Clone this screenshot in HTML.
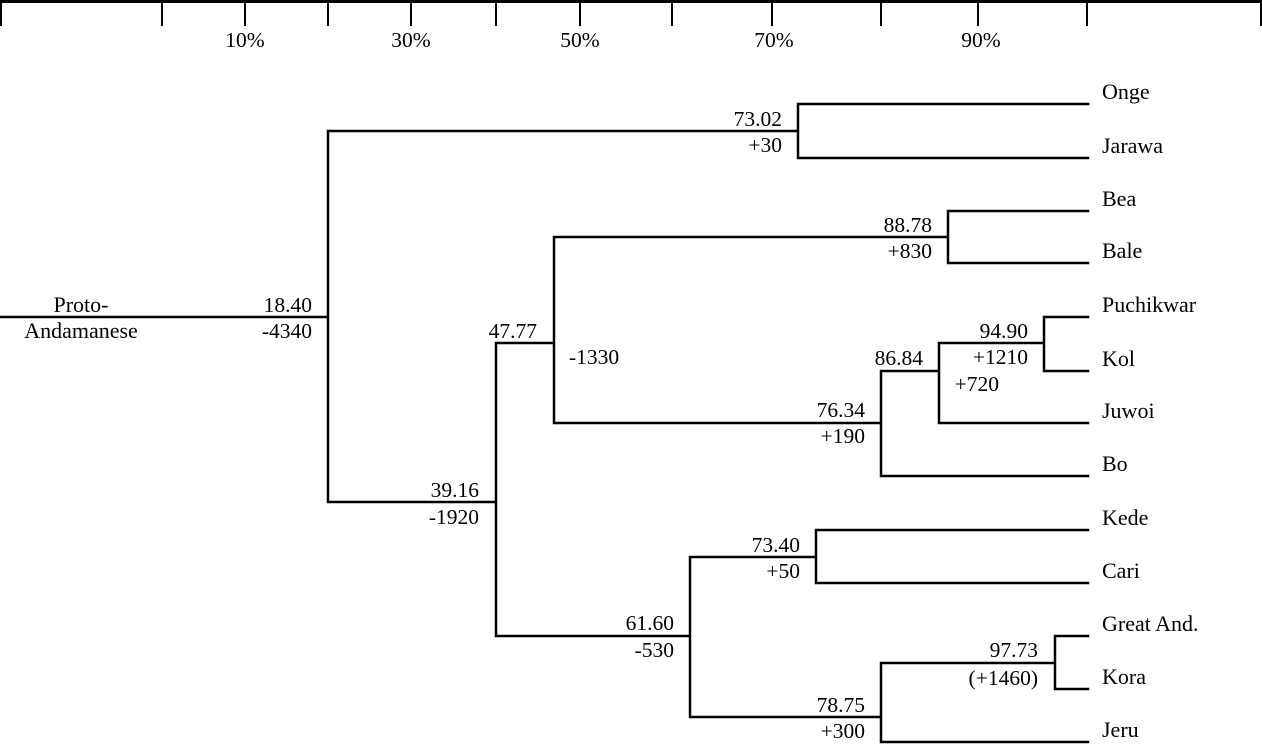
<!DOCTYPE html>
<html>
<head>
<meta charset="utf-8">
<style>
  html, body { margin: 0; padding: 0; background: #fff; }
  svg { display: block; }
  text { font-family: "Liberation Serif", "Times New Roman", serif; font-size: 21.5px; fill: #000; }
</style>
</head>
<body>
<svg width="1262" height="745" viewBox="0 0 1262 745" xmlns="http://www.w3.org/2000/svg">
  <!-- top scale -->
  <line x1="0" y1="1.5" x2="1262" y2="1.5" stroke="#000" stroke-width="3"/>
  <g stroke="#000" stroke-width="2">
    <line x1="1" y1="0" x2="1" y2="26"/>
    <line x1="162" y1="0" x2="162" y2="26"/>
    <line x1="245" y1="0" x2="245" y2="26"/>
    <line x1="328" y1="0" x2="328" y2="26"/>
    <line x1="411" y1="0" x2="411" y2="26"/>
    <line x1="496" y1="0" x2="496" y2="26"/>
    <line x1="580" y1="0" x2="580" y2="26"/>
    <line x1="672" y1="0" x2="672" y2="26"/>
    <line x1="772" y1="0" x2="772" y2="26"/>
    <line x1="881" y1="0" x2="881" y2="26"/>
    <line x1="978" y1="0" x2="978" y2="26"/>
    <line x1="1087" y1="0" x2="1087" y2="26"/>
    <line x1="1261" y1="0" x2="1261" y2="26"/>
  </g>
  <g text-anchor="middle">
    <text x="245" y="47">10%</text>
    <text x="411" y="47">30%</text>
    <text x="580" y="47">50%</text>
    <text x="774" y="47">70%</text>
    <text x="981" y="47">90%</text>
  </g>

  <!-- tree -->
  <path fill="none" stroke="#000" stroke-width="2.5" stroke-linecap="square" d="
    M0 317 H328
    M328 131 V502
    M328 131 H798 M798 104 V158 M798 104 H1088 M798 158 H1088
    M328 502 H496 M496 343 V636
    M496 343 H554 M554 237 V423
    M554 237 H948 M948 211 V263 M948 211 H1088 M948 263 H1088
    M554 423 H881 M881 371 V476 M881 371 H939 M881 476 H1088
    M939 343 V423 M939 343 H1044 M939 423 H1088
    M1044 317 V371 M1044 317 H1088 M1044 371 H1088
    M496 636 H690 M690 557 V717
    M690 557 H816 M816 530 V583 M816 530 H1088 M816 583 H1088
    M690 717 H881 M881 663 V742 M881 663 H1055 M881 742 H1088
    M1055 636 V689 M1055 636 H1088 M1055 689 H1088
  "/>

  <!-- leaf labels -->
  <g>
    <text x="1102" y="99" style="font-size:22px">Onge</text>
    <text x="1102" y="153" style="font-size:22px">Jarawa</text>
    <text x="1102" y="206" style="font-size:22px">Bea</text>
    <text x="1102" y="258" style="font-size:22px">Bale</text>
    <text x="1102" y="312" style="font-size:22px">Puchikwar</text>
    <text x="1102" y="366" style="font-size:22px">Kol</text>
    <text x="1102" y="418" style="font-size:22px">Juwoi</text>
    <text x="1102" y="471" style="font-size:22px">Bo</text>
    <text x="1102" y="525" style="font-size:22px">Kede</text>
    <text x="1102" y="578" style="font-size:22px">Cari</text>
    <text x="1102" y="631" style="font-size:22px">Great And.</text>
    <text x="1102" y="684" style="font-size:22px">Kora</text>
    <text x="1102" y="737" style="font-size:22px">Jeru</text>
  </g>

  <!-- root label -->
  <g text-anchor="middle">
    <text x="81" y="312" style="font-size:22px">Proto-</text>
    <text x="81" y="338" style="font-size:22px">Andamanese</text>
  </g>

  <!-- node labels -->
  <g text-anchor="end">
    <text x="312" y="312">18.40</text>
    <text x="312" y="338">-4340</text>

    <text x="782" y="126">73.02</text>
    <text x="782" y="152">+30</text>

    <text x="932" y="232">88.78</text>
    <text x="932" y="258">+830</text>

    <text x="537" y="338">47.77</text>

    <text x="479" y="497">39.16</text>
    <text x="479" y="524">-1920</text>

    <text x="865" y="417">76.34</text>
    <text x="865" y="443">+190</text>

    <text x="923" y="365">86.84</text>

    <text x="1028" y="338">94.90</text>
    <text x="1028" y="364">+1210</text>

    <text x="999" y="391">+720</text>

    <text x="674" y="630">61.60</text>
    <text x="674" y="657">-530</text>

    <text x="800" y="552">73.40</text>
    <text x="800" y="578">+50</text>

    <text x="865" y="712">78.75</text>
    <text x="865" y="738">+300</text>

    <text x="1038" y="657">97.73</text>
    <text x="1038" y="685">(+1460)</text>
  </g>
  <text x="569" y="364">-1330</text>
</svg>
</body>
</html>
